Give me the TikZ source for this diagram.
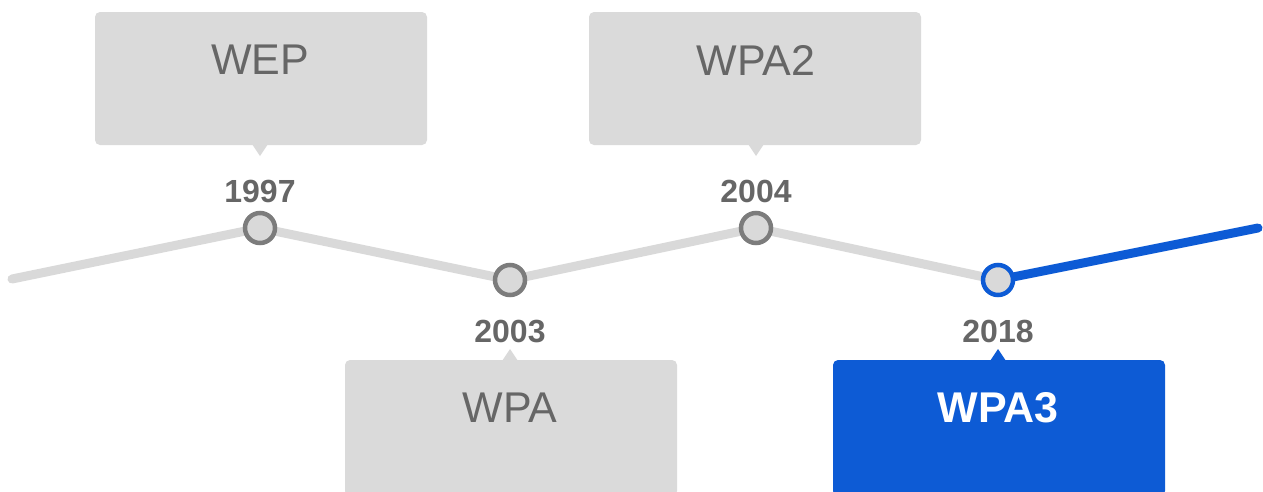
\documentclass[tikz,border=0pt]{standalone}
\usepackage{fontspec}
\setmainfont{Liberation Sans}
\usetikzlibrary{backgrounds,calc}
\definecolor{boxgray}{HTML}{DADADA}
\definecolor{linegray}{HTML}{D9D9D9}
\definecolor{ringgray}{HTML}{7C7C7C}
\definecolor{txtgray}{HTML}{666666}
\definecolor{accent}{HTML}{0D5BD5}
\begin{document}
\begin{tikzpicture}[x=1pt,y=-1pt,
  track/.style={line width=9pt, line cap=round, line join=round},
  ring/.style={circle, draw=ringgray, fill=linegray, line width=4.5pt,
    minimum size=30pt, inner sep=0pt},
  year/.style={font=\bfseries\fontsize{32}{34}\selectfont, text=txtgray},
  tag/.style={font=\fontsize{43}{45}\selectfont, text=txtgray},
  hitag/.style={font=\bfseries\fontsize{43}{45}\selectfont, text=white},
]
\useasboundingbox (0,0) rectangle (1263,491);

% timeline points
\coordinate (start) at (12,279);
\node[ring] (r1997) at (260,228) {};
\node[ring] (r2003) at (510,280) {};
\node[ring] (r2004) at (756,228) {};
\node[ring, draw=accent] (r2018) at (998,280) {};
\coordinate (end) at (1258,228);

% the track behind the points
\begin{scope}[on background layer]
  \draw[track, linegray] (start) -- (r1997.center) -- (r2003.center)
    -- (r2004.center) -- (r2018.center);
  \draw[track, accent] (r2018.center) -- (end);
\end{scope}

% year labels
\node[year] (t1997) at (260,191) {1997};
\node[year] (t2004) at (756,191) {2004};
\node[year] (t2003) at (510,331) {2003};
\node[year] (t2018) at (998,331) {2018};

% callout boxes above the track
\begin{scope}[on background layer]
  \fill[boxgray, rounded corners=5pt] (95,12) rectangle (427,145);
  \fill[boxgray] (252,144) -- (260,156) -- (268,144) -- cycle;
  \fill[boxgray, rounded corners=5pt] (589,12) rectangle (921,145);
  \fill[boxgray] (748,144) -- (756,156) -- (764,144) -- cycle;
  % callout boxes below the track
  \fill[boxgray, rounded corners=5pt] (345,360) rectangle (677,496);
  \fill[boxgray] (502,361) -- (510,349) -- (518,361) -- cycle;
  \fill[accent, rounded corners=5pt] (833,360) rectangle (1165,496);
  \fill[accent] (990,361) -- (998,349) -- (1006,361) -- cycle;
\end{scope}

\node[tag] (wep) at (260,60) {WEP};
\node[tag] (wpa2) at (756,60) {WPA2};
\node[tag] (wpa) at (510,408) {WPA};
\node[hitag] (wpa3) at (998,408) {WPA3};
\end{tikzpicture}
\end{document}
